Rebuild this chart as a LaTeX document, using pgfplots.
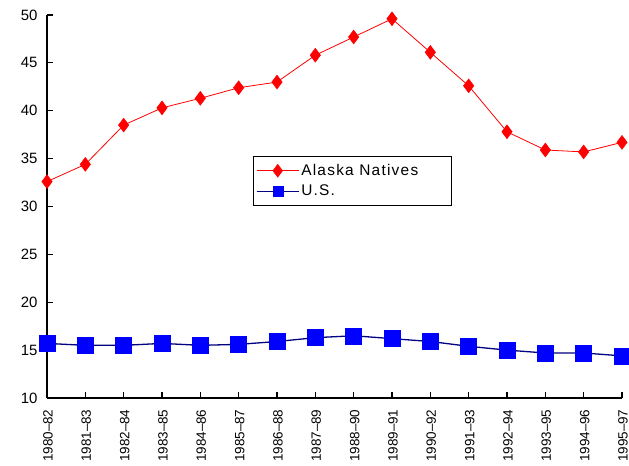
\documentclass[border=0pt]{standalone}
\usepackage{fontspec}
\setmainfont{Liberation Sans}
\usepackage{pgfplots}
\pgfplotsset{compat=1.18}
\usepackage{pgfplotstable}

\definecolor{navyline}{RGB}{0,0,128}

% rates per 1,000, three-year averages
\pgfplotstableread{
idx alaska us
0  32.6 15.7
1  34.4 15.5
2  38.5 15.5
3  40.3 15.7
4  41.3 15.5
5  42.4 15.6
6  43.0 15.9
7  45.8 16.3
8  47.7 16.5
9  49.6 16.2
10 46.1 15.9
11 42.6 15.4
12 37.8 15.0
13 35.9 14.7
14 35.7 14.7
15 36.7 14.4
}\ratedata

\begin{document}
\begin{tikzpicture}
\begin{axis}[
    scale only axis,
    width=575bp, height=383bp,
    xmin=0, xmax=15,
    ymin=10, ymax=50,
    axis lines=left,
    axis line style={line width=1.6pt, -},
    xtick={0,...,15},
    xticklabels={1980--82,1981--83,1982--84,1983--85,1984--86,1985--87,1986--88,1987--89,1988--90,1989--91,1990--92,1991--93,1992--94,1993--95,1994--96,1995--97},
    ytick={10,15,...,50},
    tick style={black, line width=1.2pt},
    major tick length=6bp,
    tick align=inside,
    /pgf/number format/assume math mode=true,
    yticklabel style={font=\fontsize{15}{18}\selectfont, xshift=-6bp},
    xticklabel style={font=\fontsize{13.5}{16}\selectfont, rotate=90, anchor=east, yshift=-1bp, xshift=-8bp},
    legend style={at={(0.3576,0.632)}, anchor=north west, draw=black, line width=1pt,
        font=\fontsize{15.5}{18}\selectfont\addfontfeatures{LetterSpace=8},
        inner xsep=3bp, inner ysep=6bp, row sep=4bp,
        /tikz/every even column/.append style={column sep=4bp},
        legend cell align=left},
    legend image code/.code={
        \draw[#1, mark=none] (0bp,0bp) -- (42bp,0bp);
        \draw[#1, only marks] plot coordinates {(21bp,0bp)};
    },
    clip=false,
]
\addlegendimage{red, line width=0.8pt, mark=diamond*, mark size=6.5bp,
    mark options={fill=red, draw=red, line width=0.4pt}}
\addlegendentry{Alaska Natives\hspace*{28bp}}
\addlegendimage{navyline, line width=1.2pt, mark=square*, mark size=5bp,
    mark options={fill=blue, draw=blue, line width=0.4pt}}
\addlegendentry{U.S.}
\addplot[forget plot, red, line width=0.8pt, mark=diamond*, mark size=7bp,
    mark options={fill=red, draw=red, line width=0.4pt}]
    table[x=idx, y=alaska] {\ratedata};
\addplot[forget plot, navyline, line width=1.3pt, mark=square*, mark size=8bp,
    mark options={fill=blue, draw=blue, line width=0.4pt}]
    table[x=idx, y=us] {\ratedata};
\coordinate (tl) at (rel axis cs:0,1);
\coordinate (br) at (rel axis cs:1,0);
\end{axis}
\pgfresetboundingbox
\path ([shift={(-47bp,15bp)}]tl) rectangle ([shift={(7bp,-68bp)}]br);
\end{tikzpicture}
\end{document}
